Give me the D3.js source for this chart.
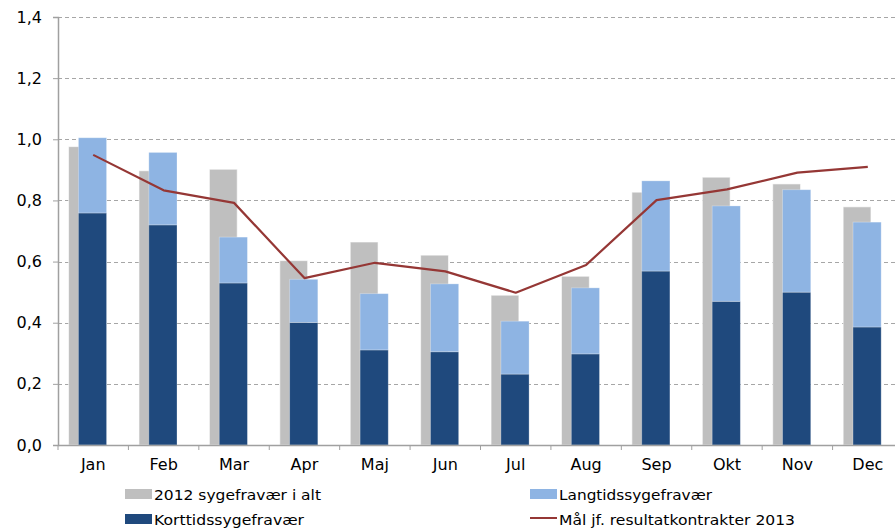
<!DOCTYPE html>
<html>
<head>
<meta charset="utf-8">
<script src="https://cdn.jsdelivr.net/npm/d3@7"></script>
<style>
  body { margin: 0; background: #fff; }
  text { font-family: "DejaVu Sans", Verdana, sans-serif; fill: #000; }
</style>
</head>
<body>
<div id="wrapper"></div>
<script>
const months = ["Jan", "Feb", "Mar", "Apr", "Maj", "Jun", "Jul", "Aug", "Sep", "Okt", "Nov", "Dec"];
const total2012 = [0.976, 0.897, 0.902, 0.603, 0.664, 0.621, 0.490, 0.552, 0.827, 0.876, 0.854, 0.779];
const korttid = [0.759, 0.720, 0.530, 0.401, 0.311, 0.305, 0.232, 0.298, 0.569, 0.470, 0.500, 0.386];
const langtid = [0.246, 0.237, 0.150, 0.141, 0.184, 0.222, 0.173, 0.216, 0.295, 0.312, 0.335, 0.343];
const maal2013 = [0.949, 0.833, 0.792, 0.546, 0.596, 0.568, 0.498, 0.589, 0.801, 0.836, 0.891, 0.910];
const yTicks = [0, 0.2, 0.4, 0.6, 0.8, 1.0, 1.2, 1.4];

const colors = {
    total: "#bfbfbf",
    kort: "#1f497d",
    lang: "#8eb4e3",
    line: "#953735",
    grid: "#a6a6a6",
    axis: "#a0a0a0"
};

function draw() {
    const dimensions = {
        width: 895,
        height: 528,
        margin: { top: 17, right: -8, bottom: 83, left: 58 }
    };
    dimensions.boundedWidth = dimensions.width - dimensions.margin.left - dimensions.margin.right;
    dimensions.boundedHeight = dimensions.height - dimensions.margin.top - dimensions.margin.bottom;

    const svg = d3.select("#wrapper")
        .append("svg")
        .attr("width", dimensions.width)
        .attr("height", dimensions.height);

    const bounds = svg.append("g")
        .attr("transform", `translate(${dimensions.margin.left},${dimensions.margin.top})`);

    const xScale = d3.scaleBand()
        .domain(months)
        .range([0, dimensions.boundedWidth])
        .padding(0);

    const yScale = d3.scaleLinear()
        .domain([0, 1.4])
        .range([dimensions.boundedHeight, 0]);

    const bw = xScale.bandwidth();

    // gridlines
    bounds.append("g")
        .selectAll("line")
        .data(yTicks.filter(d => d > 0))
        .join("line")
        .attr("x1", 0)
        .attr("x2", dimensions.boundedWidth)
        .attr("y1", d => Math.round(yScale(d)) + 0.5)
        .attr("y2", d => Math.round(yScale(d)) + 0.5)
        .attr("stroke", colors.grid)
        .attr("stroke-width", 1)
        .attr("stroke-dasharray", "4,3");

    const data = months.map((m, i) => ({
        month: m,
        total: total2012[i],
        kort: korttid[i],
        lang: langtid[i],
        maal: maal2013[i]
    }));

    // 2012 total bars (behind, shifted left)
    bounds.append("g")
        .selectAll("rect")
        .data(data)
        .join("rect")
        .attr("x", d => xScale(d.month) + bw * 0.15)
        .attr("width", bw * 0.395)
        .attr("y", d => yScale(d.total))
        .attr("height", d => yScale(0) - yScale(d.total))
        .attr("fill", colors.total)
        .attr("stroke", "#fff")
        .attr("stroke-opacity", 0.6)
        .attr("stroke-width", 1);

    // stacked korttid + langtid
    const stack = d3.stack().keys(["kort", "lang"]);
    const series = stack(data);

    bounds.append("g")
        .selectAll("g")
        .data(series)
        .join("g")
        .attr("fill", d => colors[d.key])
        .selectAll("rect")
        .data(d => d)
        .join("rect")
        .attr("x", d => xScale(d.data.month) + bw * 0.29)
        .attr("width", bw * 0.4)
        .attr("y", d => yScale(d[1]))
        .attr("height", d => yScale(d[0]) - yScale(d[1]))
        .attr("stroke", "#fff")
        .attr("stroke-opacity", 0.35)
        .attr("stroke-width", 0.8);

    // target line
    const lineGenerator = d3.line()
        .x(d => xScale(d.month) + bw / 2)
        .y(d => yScale(d.maal));

    bounds.append("path")
        .datum(data)
        .attr("d", lineGenerator)
        .attr("fill", "none")
        .attr("stroke", colors.line)
        .attr("stroke-width", 2.2)
        .attr("stroke-linejoin", "round");

    // y axis
    const yAxis = bounds.append("g")
        .call(d3.axisLeft(yScale)
            .tickValues(yTicks)
            .tickSize(5)
            .tickPadding(11)
            .tickFormat(d => d3.format(".1f")(d).replace(".", ",")));
    yAxis.select(".domain").attr("stroke", colors.axis).attr("stroke-width", 1.5);
    yAxis.selectAll(".tick line").attr("stroke", colors.axis);
    yAxis.selectAll("text")
        .attr("font-size", 16)
        .attr("font-family", "DejaVu Sans, Verdana, sans-serif");

    // x axis
    const xAxis = bounds.append("g")
        .attr("transform", `translate(0,${dimensions.boundedHeight})`)
        .call(d3.axisBottom(xScale).tickSize(0).tickPadding(14));
    xAxis.select(".domain").attr("stroke", colors.axis).attr("stroke-width", 1.5);
    xAxis.selectAll("text")
        .attr("font-size", 16)
        .attr("font-family", "DejaVu Sans, Verdana, sans-serif");

    // tick marks between categories
    xAxis.append("g")
        .selectAll("line")
        .data(months)
        .join("line")
        .attr("x1", d => xScale(d))
        .attr("x2", d => xScale(d))
        .attr("y1", 0)
        .attr("y2", 5)
        .attr("stroke", colors.axis);

    // legend
    const legendItems = [
        { label: "2012 sygefravær i alt", type: "rect", color: colors.total, x: 125, y: 489, len: 167 },
        { label: "Langtidssygefravær", type: "rect", color: colors.lang, x: 530, y: 489, len: 153 },
        { label: "Korttidssygefravær", type: "rect", color: colors.kort, x: 125, y: 514, len: 150 },
        { label: "Mål jf. resultatkontrakter 2013", type: "line", color: colors.line, x: 530, y: 514, len: 236 }
    ];

    const legend = svg.append("g")
        .selectAll("g")
        .data(legendItems)
        .join("g")
        .attr("transform", d => `translate(${d.x},${d.y})`);

    legend.filter(d => d.type == "rect")
        .append("rect")
        .attr("width", 27)
        .attr("height", 10)
        .attr("fill", d => d.color);

    legend.filter(d => d.type == "line")
        .append("line")
        .attr("x1", 0)
        .attr("x2", 27)
        .attr("y1", 4)
        .attr("y2", 4)
        .attr("stroke", d => d.color)
        .attr("stroke-width", 2);

    legend.append("text")
        .attr("x", 29)
        .attr("y", 11)
        .attr("font-size", 14)
        .attr("textLength", d => d.len)
        .attr("lengthAdjust", "spacingAndGlyphs")
        .text(d => d.label);
}
draw();
</script>
</body>
</html>
